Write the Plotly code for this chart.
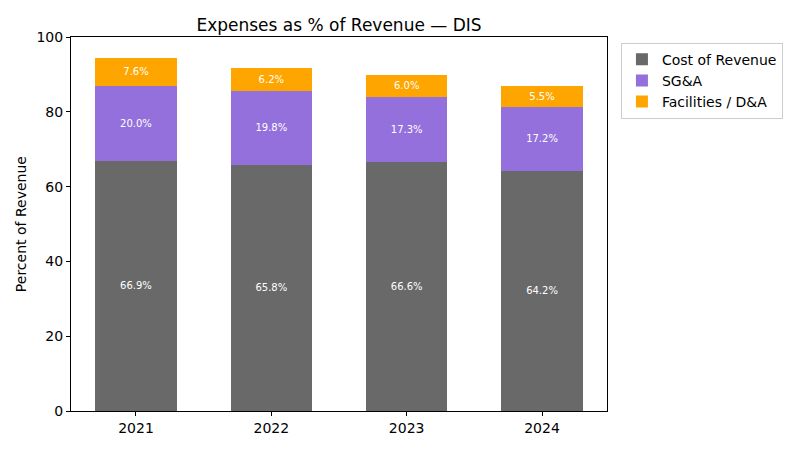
import plotly.graph_objects as go

# Data
years = ['2021', '2022', '2023', '2024']
cost_of_revenue = [66.9, 65.8, 66.6, 64.2]
sga = [20.0, 19.8, 17.3, 17.2]
facilities_da = [7.6, 6.2, 6.0, 5.5]

series = [
    ('Cost of Revenue', cost_of_revenue, '#696969'),
    ('SG&A', sga, '#9370DB'),
    ('Facilities / D&A', facilities_da, '#FFA500'),
]

fig = go.Figure()
for name, vals, color in series:
    fig.add_trace(go.Bar(
        x=years,
        y=vals,
        name=name,
        width=0.6,
        marker=dict(color=color, line=dict(width=0)),
        text=[f'{v:.1f}%' for v in vals],
        textposition='inside',
        insidetextanchor='middle',
        textangle=0,
        textfont=dict(color='white', size=10, family='DejaVu Sans'),
    ))

axis_style = dict(
    showline=True, linecolor='black', linewidth=1, mirror=True,
    ticks='outside', ticklen=4, tickcolor='black',
    showgrid=False, zeroline=False, automargin=False,
    tickfont=dict(size=14, color='black'),
)

# page body has an 8px margin, so shift the plot area to compensate
fig.update_layout(
    barmode='stack',
    width=800, height=450,
    template='plotly_white',
    font=dict(family='DejaVu Sans', color='black'),
    title=dict(text='Expenses as % of Revenue — DIS', x=(63 + 599) / 2 / 800,
               xanchor='center', y=0.975, yanchor='top',
               font=dict(size=17, color='black')),
    margin=dict(l=63, r=201, t=29, b=47),
    plot_bgcolor='white',
    paper_bgcolor='white',
    legend=dict(x=1.026, y=0.985, xanchor='left', yanchor='top',
                bordercolor='#cccccc', borderwidth=1,
                font=dict(size=14, color='black'),
                traceorder='normal'),
)
# y-axis title as annotation so it sits where the reference has it
fig.add_annotation(text='Percent of Revenue', xref='paper', yref='paper',
                   x=-0.093, y=0.5, xanchor='center', yanchor='middle',
                   textangle=-90, showarrow=False, font=dict(size=14, color='black'))
fig.update_xaxes(range=[-0.48, 3.48], **axis_style)
fig.update_yaxes(range=[0, 100], dtick=20, **axis_style)

fig.write_html("out.html")
